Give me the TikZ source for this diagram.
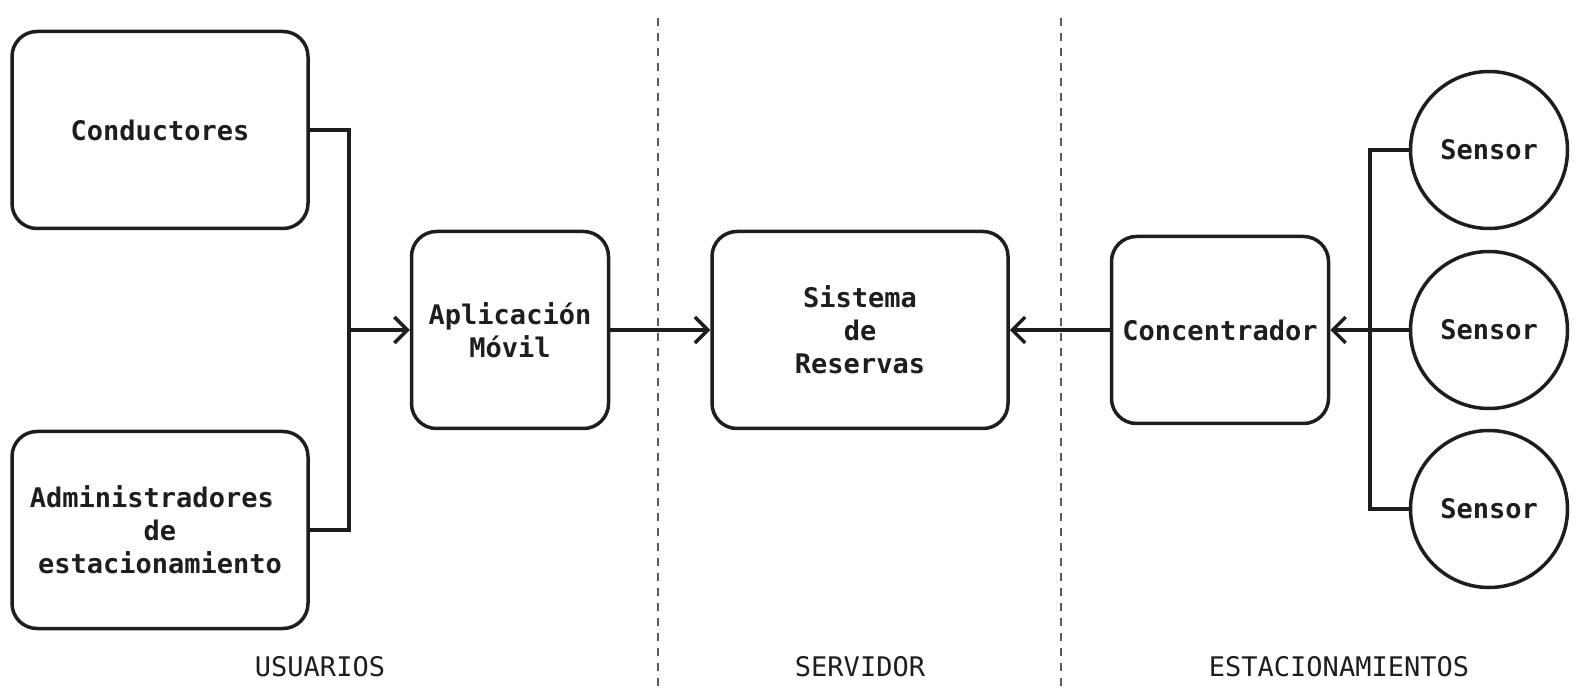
\documentclass[tikz,border=0pt]{standalone}
\usepackage{fontspec}
\usepackage{xcolor}
\usepackage{tikz}
\usetikzlibrary{arrows.meta}
\newfontfamily\diagfont{DejaVu Sans Mono}
\definecolor{ink}{HTML}{1E1E1E}
\definecolor{sepgray}{HTML}{5A5A5A}

\tikzset{
  box/.style={draw=ink, line width=3.5pt, rounded corners=25pt, align=center,
    inner sep=0pt, font=\diagfont\bfseries\fontsize{27}{33}\selectfont, text=ink},
  sensornode/.style={draw=ink, line width=3.5pt, circle, minimum size=157pt,
    inner sep=0pt, font=\diagfont\bfseries\fontsize{27}{33}\selectfont, text=ink},
  link/.style={draw=ink, line width=3.5pt},
  flow/.style={link, -{Straight Barb[length=13pt,width=26pt,line width=3.5pt]}},
  zone/.style={font=\diagfont\fontsize{27}{33}\selectfont, text=ink},
  divider/.style={draw=sepgray, line width=1.5pt, dash pattern=on 8pt off 7pt}
}

\begin{document}
\begin{tikzpicture}[x=1pt,y=-1pt]
    \useasboundingbox (0,0) rectangle (1580,700);
    % define coordinates
    \coordinate (busL) at (349,330) ;
    \coordinate (busR) at (1370,330) ;
    % zones
    \draw[divider] (658,18) -- (658,692);
    \draw[divider] (1061,18) -- (1061,692);
    \node[zone] (lblusr) at (320,667) {USUARIOS};
    \node[zone] (lblsrv) at (860,667) {SERVIDOR};
    \node[zone] (lblest) at (1339,667) {ESTACIONAMIENTOS};
    % users
    \node[box, minimum width=296pt, minimum height=197pt] (cond) at (160,130) {Conductores};
    \node[box, minimum width=296pt, minimum height=197pt] (admin) at (160,530)
        {Administradores\phantom{x}\\de\\estacionamiento};
    \node[box, minimum width=197pt, minimum height=197pt] (app) at (510,330) {Aplicación\\Móvil};
    % server
    \node[box, minimum width=296pt, minimum height=197pt] (sis) at (860,330) {Sistema\\de\\Reservas};
    % parking
    \node[box, minimum width=217pt, minimum height=187pt] (conc) at (1220,330) {Concentrador};
    \node[sensornode] (s1) at (1489,150) {Sensor};
    \node[sensornode] (s2) at (1489,330) {Sensor};
    \node[sensornode] (s3) at (1489,509) {Sensor};
    % connectors
    \draw[link] (cond.east) -| (busL) |- (admin.east);
    \draw[flow] (busL) -- (app.west);
    \draw[flow] (app.east) -- (sis.west);
    \draw[flow] (conc.west) -- (sis.east);
    \draw[link] (s1.west) -| (busR) |- (s3.west);
    \draw[flow] (s2.west) -- (conc.east);
\end{tikzpicture}
\end{document}
